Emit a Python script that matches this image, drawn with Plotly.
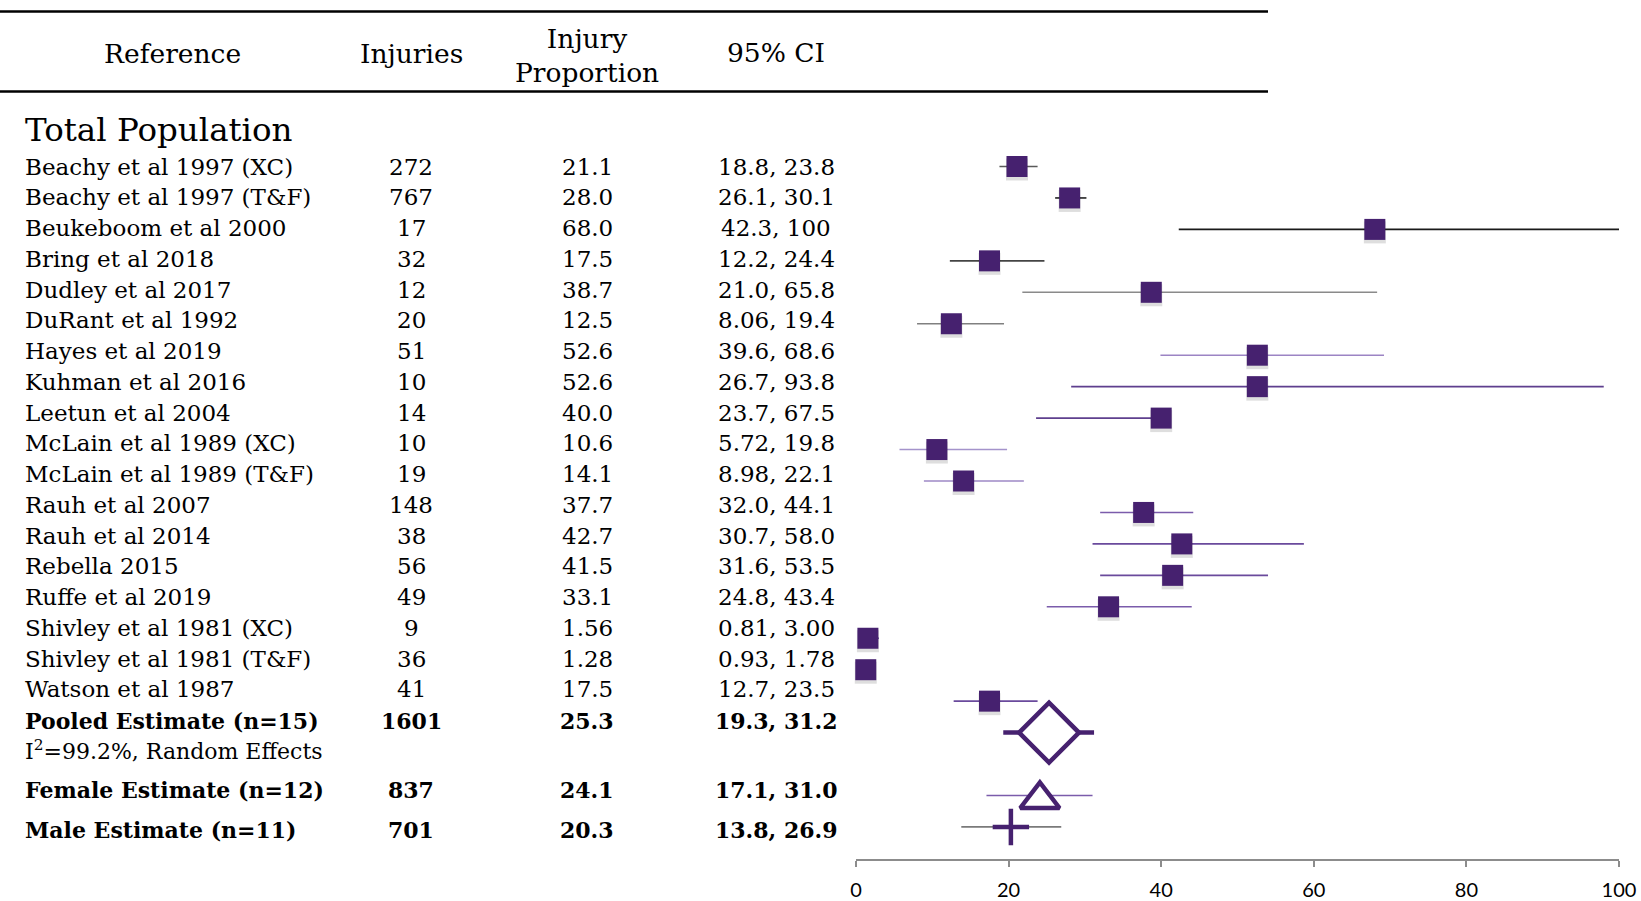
import plotly.graph_objects as go

# ---------------- data ----------------
studies = [
    "Beachy et al 1997 (XC)", "Beachy et al 1997 (T&F)", "Beukeboom et al 2000",
    "Bring et al 2018", "Dudley et al 2017", "DuRant et al 1992", "Hayes et al 2019",
    "Kuhman et al 2016", "Leetun et al 2004", "McLain et al 1989 (XC)",
    "McLain et al 1989 (T&F)", "Rauh et al 2007", "Rauh et al 2014", "Rebella 2015",
    "Ruffe et al 2019", "Shivley et al 1981 (XC)", "Shivley et al 1981 (T&F)",
    "Watson et al 1987",
]
injuries = [272, 767, 17, 32, 12, 20, 51, 10, 14, 10, 19, 148, 38, 56, 49, 9, 36, 41]
proportion = [21.1, 28.0, 68.0, 17.5, 38.7, 12.5, 52.6, 52.6, 40.0, 10.6,
              14.1, 37.7, 42.7, 41.5, 33.1, 1.56, 1.28, 17.5]
proportion_text = ["21.1", "28.0", "68.0", "17.5", "38.7", "12.5", "52.6", "52.6", "40.0",
                   "10.6", "14.1", "37.7", "42.7", "41.5", "33.1", "1.56", "1.28", "17.5"]
ci_text = ["18.8, 23.8", "26.1, 30.1", "42.3, 100", "12.2, 24.4", "21.0, 65.8",
           "8.06, 19.4", "39.6, 68.6", "26.7, 93.8", "23.7, 67.5", "5.72, 19.8",
           "8.98, 22.1", "32.0, 44.1", "30.7, 58.0", "31.6, 53.5", "24.8, 43.4",
           "0.81, 3.00", "0.93, 1.78", "12.7, 23.5"]
# whisker ends as drawn in the plot panel
whisker_lo = [18.8, 26.1, 42.3, 12.3, 21.8, 8.0, 39.9, 28.2, 23.6, 5.7,
              8.9, 32.0, 31.0, 32.0, 25.0, 0.81, 0.93, 12.8]
whisker_hi = [23.8, 30.2, 100.0, 24.7, 68.3, 19.4, 69.2, 98.0, 40.0, 19.8,
              22.0, 44.2, 58.7, 54.0, 44.0, 3.0, 1.78, 23.8]

summary_labels = ["Pooled Estimate (n=15)", "Female Estimate (n=12)", "Male Estimate (n=11)"]
summary_injuries = [1601, 837, 701]
summary_prop = [25.3, 24.1, 20.3]
summary_prop_text = ["25.3", "24.1", "20.3"]
summary_ci_text = ["19.3, 31.2", "17.1, 31.0", "13.8, 26.9"]
summary_lo = [19.3, 17.1, 13.8]
summary_hi = [31.2, 31.0, 26.9]
heterogeneity_text = "I<sup>2</sup>=99.2%, Random Effects"

header_labels = ["Reference", "Injuries", "Injury<br>Proportion", "95% CI"]
section_title = "Total Population"
tick_vals = [0, 20, 40, 60, 80, 100]

# ---------------- layout / style ----------------
W, H = 1641, 901
OFF = 0                    # body margin removed below (post_script)
def fx(px):                # window x pixel -> paper fraction
    return (px - OFF) / W
def fy(py):                # window y pixel -> y-axis value (figure px from top)
    return py - OFF

PLOT_BOTTOM = fy(859)      # x axis line
X0_PX, X100_PX = 856, 1619

PURPLE = "#46216f"
whisker_colors = ["#5a5a5a", "#222222", "#1a1a1a", "#444444", "#8a8a8a", "#808080",
                  "#9c84c4", "#5e3f8e", "#5e3f8e", "#a493cb", "#9e89c6", "#7b5cab",
                  "#6a4a9c", "#6a4a9c", "#7b5cab", "#6a4a9c", "#6a4a9c", "#6a4a9c"]
summary_whisker_colors = [PURPLE, "#7b5cab", "#7a7a7a"]
summary_whisker_widths = [4.5, 1.5, 1.8]

MARK_Y0, MARK_STEP = 166.5, 31.45
mark_y = [fy(MARK_Y0 + i * MARK_STEP) for i in range(len(studies))]
summary_mark_y = [fy(MARK_Y0 + k * MARK_STEP) for k in (18, 20, 21)]
TRIANGLE_DROP = 4          # visual centring of the triangle on its whisker

TEXT_Y0, TEXT_STEP = 166.5, 30.75
text_y = [fy(TEXT_Y0 + i * TEXT_STEP) for i in range(len(studies))]
summary_text_y = [fy(v) for v in (721, 790, 830)]
heterogeneity_y = fy(750)

COL_NAME_X = fx(23)
COL_INJ_X = fx(411)
COL_PROP_X = fx(587)
COL_CI_X = fx(776)
header_x = [fx(172), COL_INJ_X, COL_PROP_X, COL_CI_X]
header_y = [fy(53), fy(53), fy(55), fy(52)]

SERIF = "DejaVu Serif"
ROW_FONT = dict(family=SERIF, size=23, color="black")
HET_FONT = dict(family=SERIF, size=22, color="black")
BOLD_FONT = dict(family=SERIF, size=22, color="black", weight="bold")

fig = go.Figure()

# study whiskers
for lo, hi, yy, col in zip(whisker_lo, whisker_hi, mark_y, whisker_colors):
    fig.add_trace(go.Scatter(x=[lo, hi], y=[yy, yy], mode="lines",
                             line=dict(color=col, width=1.6),
                             hoverinfo="skip", showlegend=False))

# summary whiskers
for lo, hi, yy, col, lw in zip(summary_lo, summary_hi, summary_mark_y,
                               summary_whisker_colors, summary_whisker_widths):
    fig.add_trace(go.Scatter(x=[lo, hi], y=[yy, yy], mode="lines",
                             line=dict(color=col, width=lw),
                             hoverinfo="skip", showlegend=False))

# square shadows (soft)
fig.add_trace(go.Scatter(x=proportion, y=[v + 3 for v in mark_y], mode="markers",
                         marker=dict(symbol="square", size=22, color="rgba(0,0,0,0.13)",
                                     line=dict(width=0)),
                         cliponaxis=False, hoverinfo="skip", showlegend=False))
# study squares
fig.add_trace(go.Scatter(x=proportion, y=mark_y, mode="markers",
                         marker=dict(symbol="square", size=21, color=PURPLE,
                                     line=dict(width=0)),
                         cliponaxis=False, showlegend=False, text=studies,
                         hovertemplate="%{text}: %{x}<extra></extra>"))

# summary markers
summary_symbols = ["diamond", "triangle-up", "cross-thin-open"]
summary_sizes = [46, 34, 26]
summary_fill = ["white", "white", PURPLE]
summary_lw = [4.5, 4.5, 4.5]
summary_marker_y = [summary_mark_y[0], summary_mark_y[1] + TRIANGLE_DROP, summary_mark_y[2]]
for i in range(3):
    fig.add_trace(go.Scatter(x=[summary_prop[i]], y=[summary_marker_y[i]], mode="markers",
                             marker=dict(symbol=summary_symbols[i], size=summary_sizes[i],
                                         color=summary_fill[i],
                                         line=dict(color=PURPLE, width=summary_lw[i])),
                             cliponaxis=False, showlegend=False,
                             hovertemplate=summary_labels[i] + ": %{x}<extra></extra>"))

annotations = []
def add_text(text, x, y, font, anchor="center"):
    annotations.append(dict(text=text, x=x, y=y, xref="paper", yref="y",
                            xanchor=anchor, yanchor="middle", showarrow=False,
                            font=font, align="center"))

# header
for lab, hx, hy in zip(header_labels, header_x, header_y):
    add_text(lab, hx, hy, dict(family=SERIF, size=26.5, color="black"))
add_text(section_title, COL_NAME_X, fy(130), dict(family=SERIF, size=32.5, color="black"), "left")

# study rows
for name, inj, pt, ct, ty in zip(studies, injuries, proportion_text, ci_text, text_y):
    add_text(name, COL_NAME_X, ty, ROW_FONT, "left")
    add_text(str(inj), COL_INJ_X, ty, ROW_FONT)
    add_text(pt, COL_PROP_X, ty, ROW_FONT)
    add_text(ct, COL_CI_X, ty, ROW_FONT)

# summary rows
for lab, inj, pt, ct, ty in zip(summary_labels, summary_injuries, summary_prop_text,
                                summary_ci_text, summary_text_y):
    add_text(lab, COL_NAME_X, ty, BOLD_FONT, "left")
    add_text(str(inj), COL_INJ_X, ty, BOLD_FONT)
    add_text(pt, COL_PROP_X, ty, BOLD_FONT)
    add_text(ct, COL_CI_X, ty, BOLD_FONT)
add_text(heterogeneity_text, COL_NAME_X, heterogeneity_y, HET_FONT, "left")

shapes = [dict(type="line", xref="paper", yref="y", x0=0, x1=fx(1268), y0=yy, y1=yy,
               line=dict(color="black", width=2.6)) for yy in (fy(11.5), fy(91.5))]

fig.update_layout(
    width=W, height=H,
    template="none",
    paper_bgcolor="white", plot_bgcolor="white",
    margin=dict(l=0, r=0, t=0, b=0, pad=0),
    showlegend=False,
    annotations=annotations,
    shapes=shapes,
    xaxis=dict(domain=[fx(X0_PX), fx(X100_PX)], range=[0, 100], tickvals=tick_vals,
               showgrid=False, zeroline=False, showline=True, linecolor="#8c8c8c",
               linewidth=1.5, ticks="outside", ticklen=6, tickwidth=1.5,
               tickcolor="#8c8c8c", ticklabelstandoff=6, automargin=False,
               tickfont=dict(family="Lato", size=20, color="black")),
    yaxis=dict(domain=[(H - PLOT_BOTTOM) / H, 1], range=[PLOT_BOTTOM, 0], visible=False,
               automargin=False),
)

fig.write_html(
    "out.html",
    config={"displayModeBar": False},
    post_script="document.body.style.margin='0';"
                "document.documentElement.style.overflow='hidden';"
                "document.body.style.overflow='hidden';",
)
